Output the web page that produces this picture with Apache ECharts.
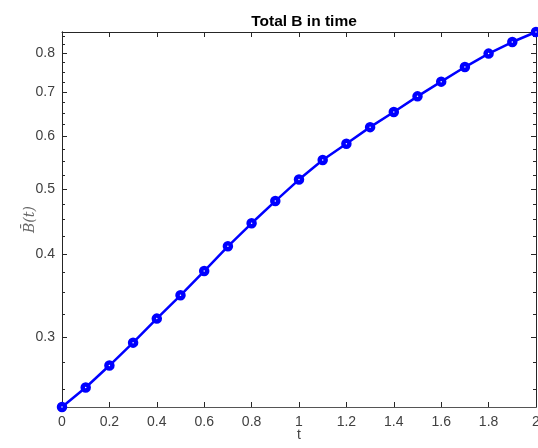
<!DOCTYPE html>
<html>
<head>
<meta charset="utf-8">
<script src="https://cdn.jsdelivr.net/npm/echarts@6/dist/echarts.min.js"></script>
<style>
  html, body { margin: 0; padding: 0; background: #fff; }
  #chart { width: 538px; height: 448px; }
</style>
</head>
<body>
<div id="chart"></div>
<script>
// time samples and total B at each step
const tValues = [0, 0.1, 0.2, 0.3, 0.4, 0.5, 0.6, 0.7, 0.8, 0.9, 1.0,
                 1.1, 1.2, 1.3, 1.4, 1.5, 1.6, 1.7, 1.8, 1.9, 2.0];
const bValues = [0.2355, 0.2519, 0.2718, 0.2942, 0.3197, 0.3465, 0.3768,
                 0.4105, 0.4445, 0.4800, 0.5170, 0.5532, 0.5853, 0.6198,
                 0.6530, 0.6894, 0.7254, 0.7629, 0.7992, 0.8319, 0.8612];

// tick positions on the log-scaled y axis
const yMajorTicks = [0.3, 0.4, 0.5, 0.6, 0.7, 0.8];
const yMinorTicks = [0.25, 0.275, 0.325, 0.35, 0.375, 0.425, 0.45, 0.475,
                     0.525, 0.55, 0.575, 0.625, 0.65, 0.675, 0.725, 0.75,
                     0.775, 0.825, 0.85];

const yMin = Math.min(...bValues);
const yMax = Math.max(...bValues);

const axisDark = '#262626';
const labelGrey = '#404040';

function logAxis(pos, ticks, len, showLabels, extra) {
  return Object.assign({
    type: 'log',
    position: pos,
    min: yMin,
    max: yMax,
    axisLine: { show: true, lineStyle: { color: axisDark, width: 1 } },
    axisTick: { show: true, inside: true, length: len, customValues: ticks,
                lineStyle: { color: axisDark, width: 1 } },
    axisLabel: showLabels
      ? { show: true, customValues: ticks, margin: 7, color: labelGrey,
          fontFamily: 'Liberation Sans', fontSize: 14,
          formatter: v => (+v).toFixed(1) }
      : { show: false },
    splitLine: { show: false },
    minorTick: { show: false }
  }, extra || {});
}

const chart = echarts.init(document.getElementById('chart'), null, { renderer: 'canvas' });

chart.setOption({
  animation: false,
  backgroundColor: '#ffffff',
  title: {
    text: 'Total B in time',
    left: 299,
    top: 9,
    textAlign: 'center',
    textStyle: { fontFamily: 'Liberation Sans', fontWeight: 'bold', fontSize: 15.5, color: '#000' }
  },
  grid: { left: 62, right: 2, top: 32, bottom: 41, containLabel: false, outerBoundsMode: 'none' },
  xAxis: [
    {
      type: 'value', position: 'bottom', min: 0, max: 2, interval: 0.2,
      name: 't', nameLocation: 'middle', nameGap: 21, nameMoveOverlap: false,
      nameTextStyle: { fontFamily: 'Liberation Sans', fontSize: 14, color: labelGrey },
      axisLine: { show: true, lineStyle: { color: '#555', width: 1 } },
      axisTick: { show: true, inside: true, length: 5, lineStyle: { color: axisDark } },
      axisLabel: { margin: 8, color: labelGrey, fontFamily: 'Liberation Sans', fontSize: 14,
                   formatter: v => String(Math.round(v * 10) / 10) },
      splitLine: { show: false }
    },
    {
      type: 'value', position: 'top', min: 0, max: 2, interval: 0.2,
      axisLine: { show: true, lineStyle: { color: axisDark, width: 1 } },
      axisTick: { show: true, inside: true, length: 5, lineStyle: { color: axisDark } },
      axisLabel: { show: false },
      splitLine: { show: false }
    }
  ],
  yAxis: [
    logAxis('left', yMajorTicks, 5, true, {
      name: 'B\u0304(t)', nameLocation: 'middle', nameGap: 25, nameRotate: 90, nameMoveOverlap: false,
      nameTextStyle: { fontFamily: 'DejaVu Serif', fontStyle: 'italic', fontSize: 14, color: '#666' }
    }),
    logAxis('left', yMinorTicks, 3, false),
    logAxis('right', yMajorTicks, 5, false),
    logAxis('right', yMinorTicks, 3, false)
  ],
  series: [
    {
      type: 'line',
      xAxisIndex: 0,
      yAxisIndex: 0,
      data: tValues.map((t, i) => [t, bValues[i]]),
      lineStyle: { color: '#0000ff', width: 2.5 },
      symbol: 'circle',
      symbolSize: 6,
      itemStyle: { color: '#ffffff', borderColor: '#0000ff', borderWidth: 4.5 },
      clip: false
    }
  ]
});
</script>
</body>
</html>
